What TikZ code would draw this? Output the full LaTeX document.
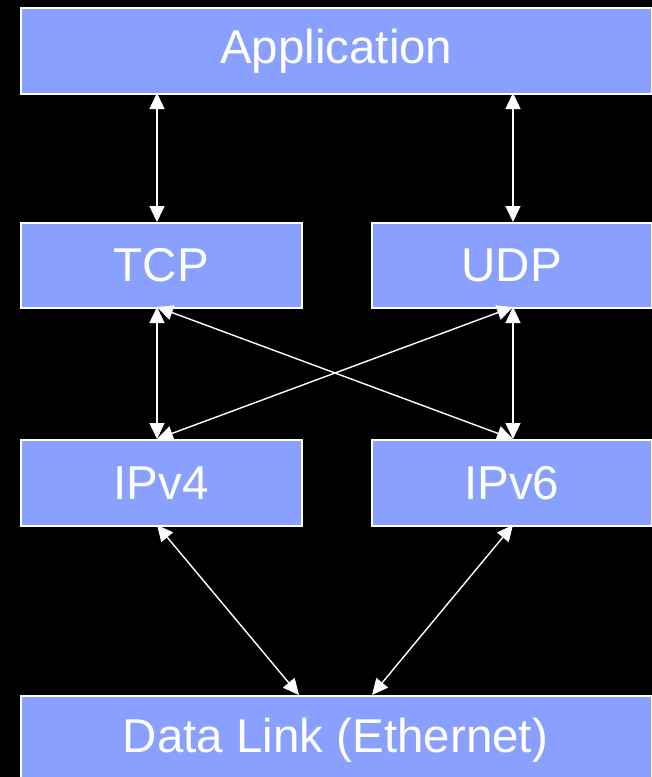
\documentclass[tikz,border=0pt]{standalone}
\usepackage{fontspec}
\setmainfont{Liberation Sans}
\usetikzlibrary{arrows.meta}
\definecolor{boxblue}{RGB}{138,160,255}
\begin{document}
\begin{tikzpicture}[x=1pt,y=-1pt,
  layer/.style={draw=white,line width=1.5pt,fill=boxblue,text=white,font=\fontsize{47.5}{52}\selectfont,inner sep=0pt,anchor=north west},
  link/.style={draw=white,line width=1.4pt,{Triangle[length=16pt,width=15pt]}-{Triangle[length=16pt,width=15pt]}}]
\fill[black] (0,0) rectangle (652,777);
\useasboundingbox (0,0) rectangle (652,777);
\node[layer,minimum width=631pt,minimum height=86pt] (app) at (20,7) {Application};
\node[layer,minimum width=281pt,minimum height=85pt] (tcp) at (20,222) {TCP};
\node[layer,minimum width=280pt,minimum height=85pt] (udp) at (371,222) {UDP};
\node[layer,minimum width=281pt,minimum height=86pt] (ipv4) at (20,439) {IPv4};
\node[layer,minimum width=280pt,minimum height=86pt] (ipv6) at (371,439) {IPv6};
\node[layer,minimum width=631pt,minimum height=92pt] (dl) at (20,695) {};
\node[text=white,font=\fontsize{47.5}{52}\selectfont] (dltext) at (335.5,740) {Data Link (Ethernet)};
\coordinate (appL) at (157,93);
\coordinate (appR) at (513,93);
\coordinate (tcpT) at (157,222);
\coordinate (udpT) at (513,222);
\coordinate (tcpB) at (157,307);
\coordinate (udpB) at (513,307);
\coordinate (v4T) at (157,439);
\coordinate (v6T) at (513,439);
\coordinate (v4B) at (157,525);
\coordinate (v6B) at (513,525);
\coordinate (dlL) at (299,695);
\coordinate (dlR) at (372,695);
\draw[link] (appL) -- (tcpT);
\draw[link] (appR) -- (udpT);
\draw[link] (tcpB) -- (v4T);
\draw[link] (udpB) -- (v6T);
\draw[link] (tcpB) -- (v6T);
\draw[link] (udpB) -- (v4T);
\draw[link] (v4B) -- (dlL);
\draw[link] (v6B) -- (dlR);
\end{tikzpicture}
\end{document}
